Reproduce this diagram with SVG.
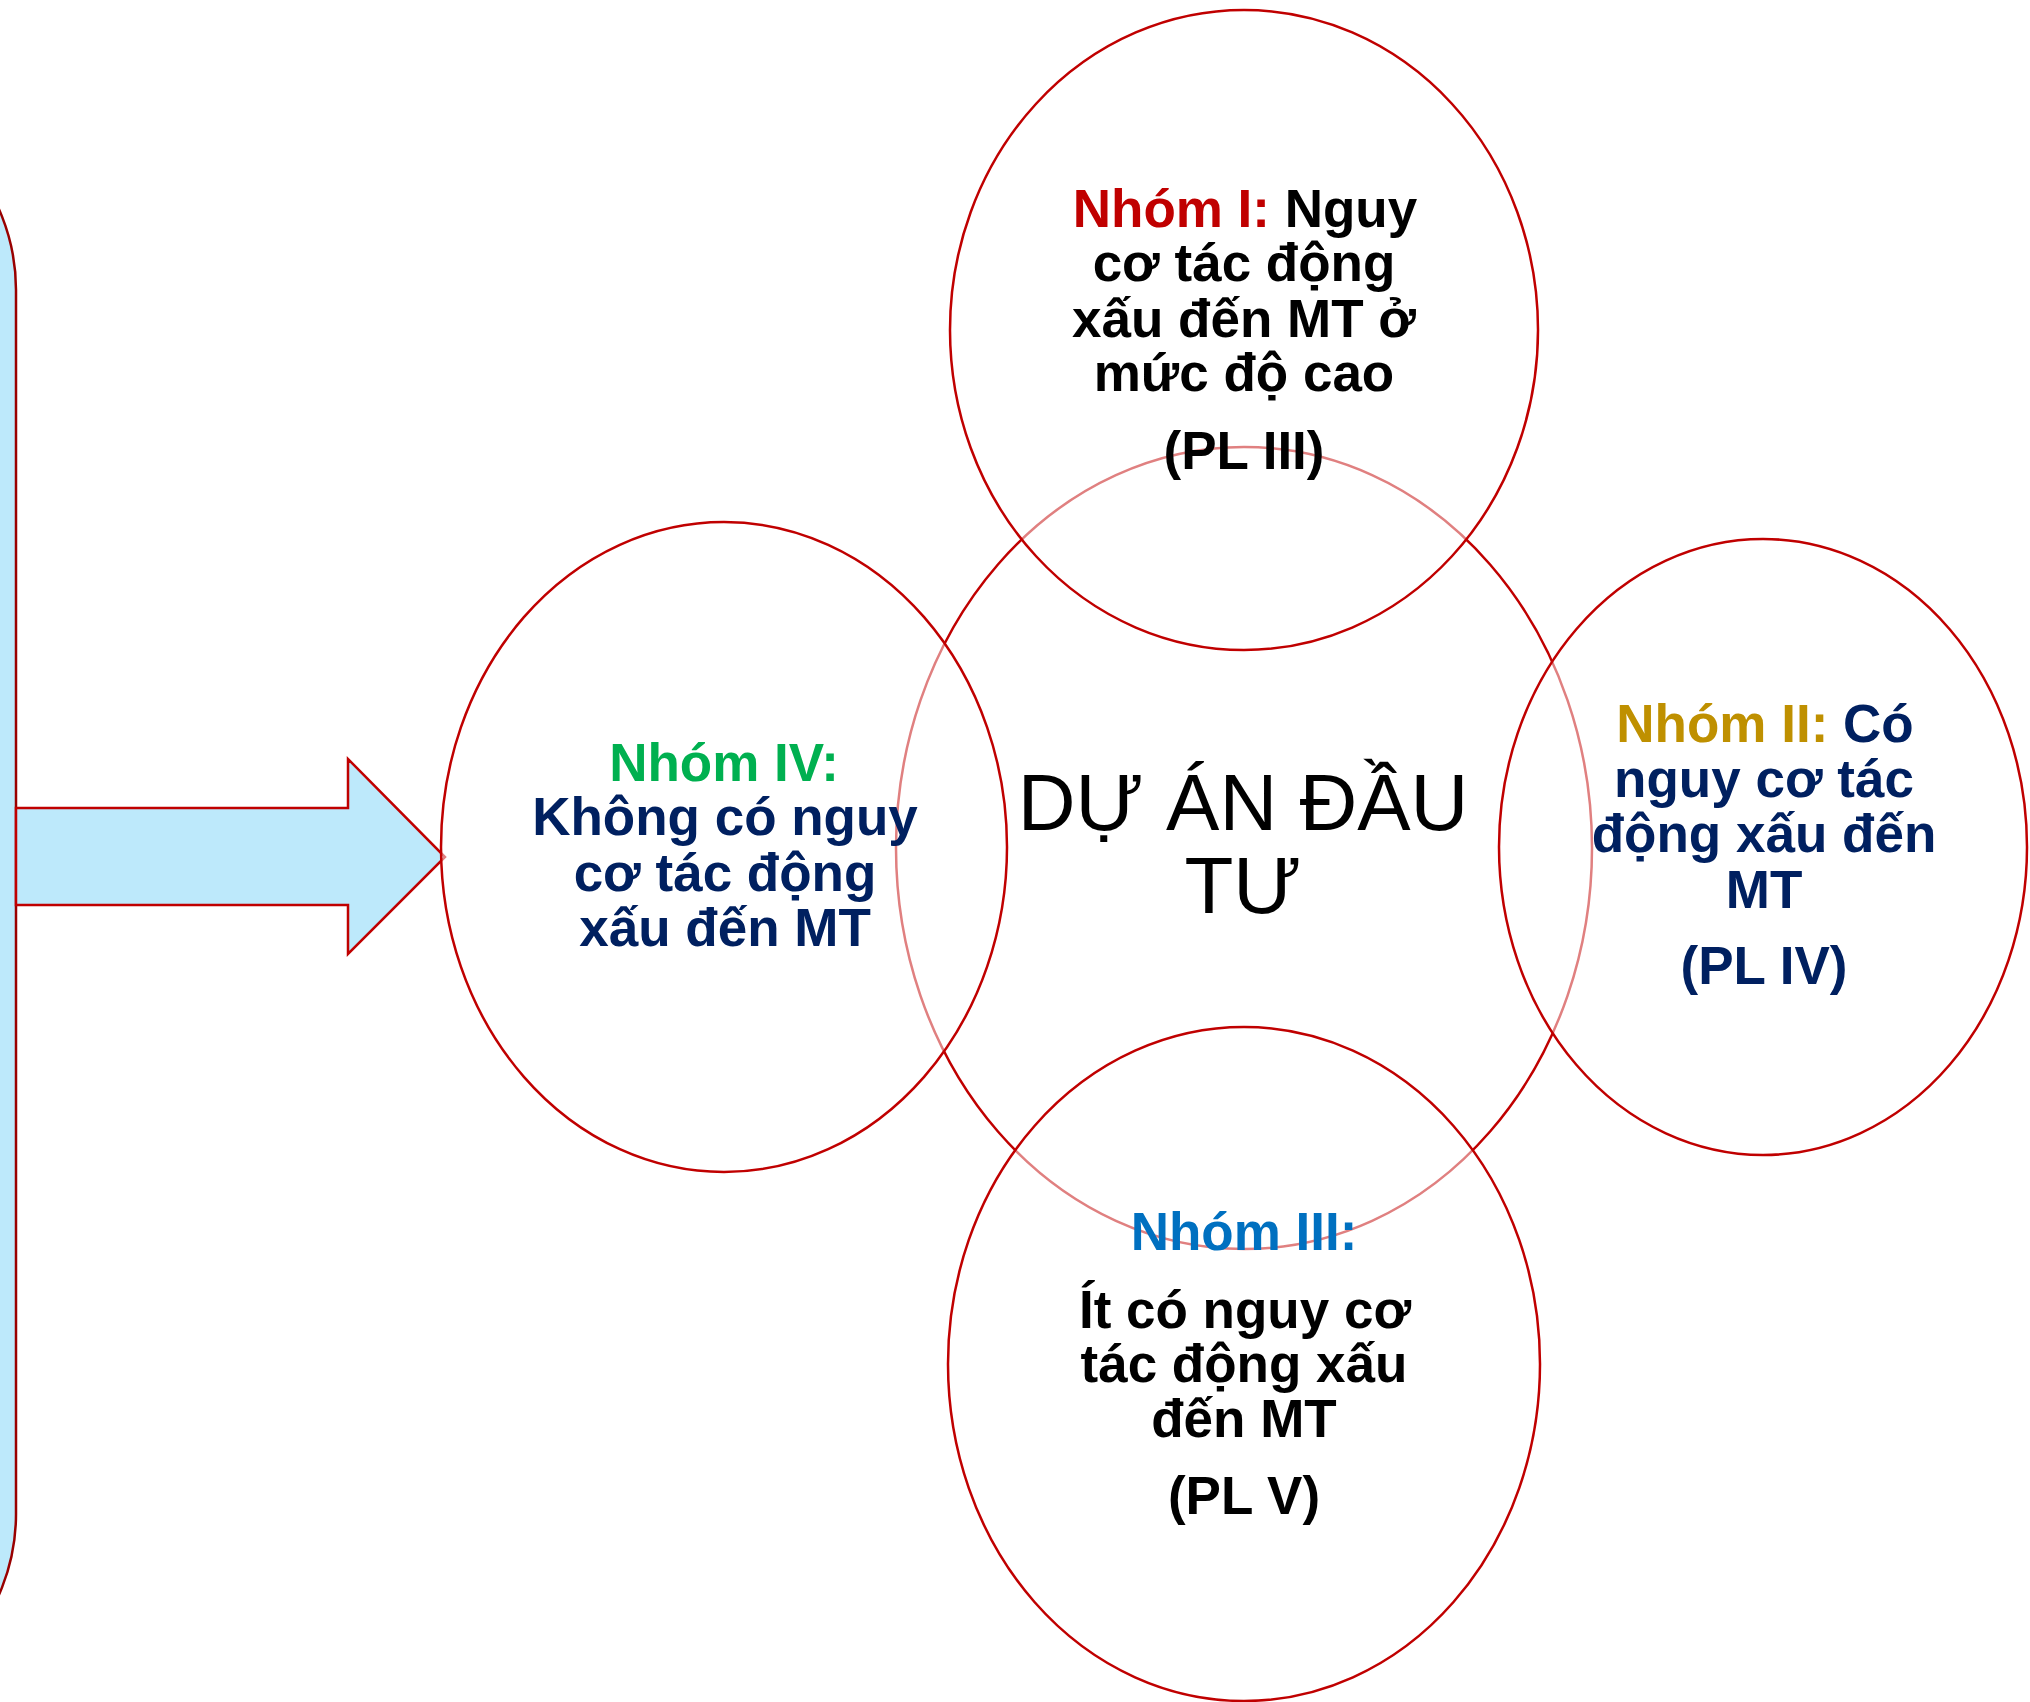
<svg xmlns="http://www.w3.org/2000/svg" width="2030" height="1702" viewBox="0 0 2030 1702">
  <style>
    .bg { fill: #ffffff; }
    .panel { fill: #BDE9FB; stroke: #990000; stroke-width: 2.5; }
    .arrow { fill: #BDE9FB; stroke: #C00000; stroke-width: 2.5; stroke-linejoin: miter; }
    .core { fill: none; stroke: #C00000; stroke-width: 2.5; }
    .ring { fill: #ffffff; fill-opacity: 0.5; stroke: #C00000; stroke-width: 2.5; }
    .t { font-family: "Liberation Sans", Arial, sans-serif; font-weight: bold; font-size: 53px; text-anchor: middle; }
    .center { font-family: "Liberation Sans", Arial, sans-serif; font-weight: normal; font-size: 80px; text-anchor: middle; fill: #000000; }
    .red { fill: #C00000; }
    .gold { fill: #BF9000; }
    .green { fill: #00B050; }
    .blue { fill: #0070C0; }
    .navy { fill: #002060; }
    .black { fill: #000000; }
  </style>
  <rect class="bg" x="0" y="0" width="2030" height="1702"/>

  <g id="panel">
    <rect class="panel" x="-400" y="90" width="416" height="1624" rx="200" ry="200"/>
  </g>

  <g id="connectors">
    <polygon class="arrow" points="16,808 348,808 348,759 445,857 348,954 348,905 16,905"/>
  </g>

  <g id="du-an">
    <ellipse class="core" cx="1244" cy="848" rx="348" ry="401"/>
  </g>

  <g id="nhom-1">
    <ellipse class="ring" cx="1244" cy="330" rx="294" ry="320"/>
  </g>
  <g id="nhom-2">
    <ellipse class="ring" cx="1763" cy="847" rx="264" ry="308"/>
  </g>
  <g id="nhom-4">
    <ellipse class="ring" cx="724" cy="847" rx="283" ry="325"/>
  </g>
  <g id="nhom-3">
    <ellipse class="ring" cx="1244" cy="1364" rx="296" ry="337"/>
  </g>

  <g id="labels">
    <text class="center" x="1243" y="830">DỰ ÁN ĐẦU</text>
    <text class="center" x="1243" y="913">TƯ</text>

    <text class="t black" x="1245" y="227"><tspan class="red">Nhóm I:</tspan> Nguy</text>
    <text class="t black" x="1244" y="281">cơ tác động</text>
    <text class="t black" x="1244" y="337">xấu đến MT ở</text>
    <text class="t black" x="1244" y="391">mức độ cao</text>
    <text class="t black" x="1244" y="469">(PL III)</text>

    <text class="t navy" x="1765" y="742"><tspan class="gold">Nhóm II:</tspan> Có</text>
    <text class="t navy" x="1764" y="797">nguy cơ tác</text>
    <text class="t navy" x="1764" y="852">động xấu đến</text>
    <text class="t navy" x="1764" y="908">MT</text>
    <text class="t navy" x="1764" y="984">(PL IV)</text>

    <text class="t green" x="724" y="781">Nhóm IV:</text>
    <text class="t navy" x="725" y="835">Không có nguy</text>
    <text class="t navy" x="725" y="891">cơ tác động</text>
    <text class="t navy" x="725" y="946">xấu đến MT</text>

    <text class="t blue" x="1244" y="1250">Nhóm III:</text>
    <text class="t black" x="1245" y="1328">Ít có nguy cơ</text>
    <text class="t black" x="1244" y="1382">tác động xấu</text>
    <text class="t black" x="1244" y="1437">đến MT</text>
    <text class="t black" x="1244" y="1514">(PL V)</text>
  </g>
</svg>
